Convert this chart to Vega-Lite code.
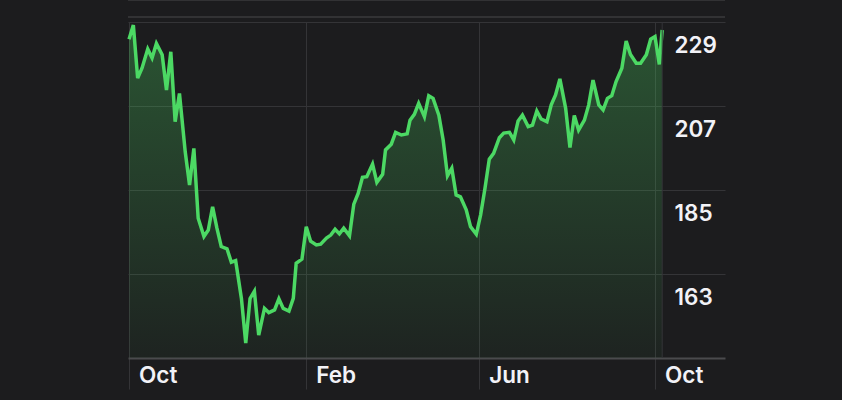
{
  "$schema": "https://vega.github.io/schema/vega-lite/v6.json",
  "width": 597,
  "height": 336,
  "autosize": "none",
  "padding": {"left": 128, "top": 22, "right": 117, "bottom": 42},
  "background": "#1c1c1e",
  "config": {
    "view": {"stroke": null},
    "axis": {"labelFont": "Inter", "labelFontWeight": 600, "labelFontSize": 22.5, "labelColor": "#f2f2f7", "title": null}
  },
  "data": {"values": [
    {"date": "2018-10-01T00:00", "price": 224.5},
    {"date": "2018-10-04T00:00", "price": 228.2},
    {"date": "2018-10-07T00:00", "price": 214.3},
    {"date": "2018-10-10T00:00", "price": 216.9},
    {"date": "2018-10-14T00:00", "price": 221.9},
    {"date": "2018-10-17T00:00", "price": 219.6},
    {"date": "2018-10-20T00:00", "price": 223.4},
    {"date": "2018-10-24T00:00", "price": 220.4},
    {"date": "2018-10-27T00:00", "price": 211.2},
    {"date": "2018-10-30T00:00", "price": 221.2},
    {"date": "2018-11-02T00:00", "price": 202.9},
    {"date": "2018-11-05T00:00", "price": 210.3},
    {"date": "2018-11-09T00:00", "price": 195.0},
    {"date": "2018-11-12T00:00", "price": 186.3},
    {"date": "2018-11-15T00:00", "price": 195.9},
    {"date": "2018-11-18T00:00", "price": 177.6},
    {"date": "2018-11-22T00:00", "price": 172.8},
    {"date": "2018-11-25T00:00", "price": 174.5},
    {"date": "2018-11-28T00:00", "price": 180.6},
    {"date": "2018-12-01T00:00", "price": 175.0},
    {"date": "2018-12-04T00:00", "price": 170.2},
    {"date": "2018-12-08T00:00", "price": 169.6},
    {"date": "2018-12-11T00:00", "price": 166.1},
    {"date": "2018-12-14T00:00", "price": 166.5},
    {"date": "2018-12-18T00:00", "price": 156.6},
    {"date": "2018-12-21T00:00", "price": 144.9},
    {"date": "2018-12-24T00:00", "price": 156.6},
    {"date": "2018-12-27T00:00", "price": 158.5},
    {"date": "2018-12-30T00:00", "price": 147.0},
    {"date": "2019-01-03T00:00", "price": 154.0},
    {"date": "2019-01-06T00:00", "price": 152.9},
    {"date": "2019-01-10T00:00", "price": 153.6},
    {"date": "2019-01-13T00:00", "price": 156.5},
    {"date": "2019-01-16T00:00", "price": 154.0},
    {"date": "2019-01-20T00:00", "price": 153.3},
    {"date": "2019-01-23T00:00", "price": 156.6},
    {"date": "2019-01-25T00:00", "price": 165.8},
    {"date": "2019-01-29T00:00", "price": 166.9},
    {"date": "2019-02-01T00:00", "price": 175.4},
    {"date": "2019-02-04T00:00", "price": 171.6},
    {"date": "2019-02-08T00:00", "price": 170.6},
    {"date": "2019-02-11T00:00", "price": 170.8},
    {"date": "2019-02-15T00:00", "price": 172.4},
    {"date": "2019-02-18T00:00", "price": 173.2},
    {"date": "2019-02-21T00:00", "price": 174.7},
    {"date": "2019-02-24T00:00", "price": 173.5},
    {"date": "2019-02-27T00:00", "price": 175.0},
    {"date": "2019-03-03T00:00", "price": 173.0},
    {"date": "2019-03-06T00:00", "price": 181.3},
    {"date": "2019-03-09T00:00", "price": 184.1},
    {"date": "2019-03-12T00:00", "price": 188.3},
    {"date": "2019-03-15T00:00", "price": 188.5},
    {"date": "2019-03-19T00:00", "price": 191.8},
    {"date": "2019-03-22T00:00", "price": 187.0},
    {"date": "2019-03-26T00:00", "price": 189.1},
    {"date": "2019-03-28T00:00", "price": 195.5},
    {"date": "2019-04-01T00:00", "price": 197.0},
    {"date": "2019-04-04T00:00", "price": 200.1},
    {"date": "2019-04-08T00:00", "price": 199.4},
    {"date": "2019-04-12T00:00", "price": 199.7},
    {"date": "2019-04-14T00:00", "price": 203.3},
    {"date": "2019-04-17T00:00", "price": 204.8},
    {"date": "2019-04-20T00:00", "price": 207.7},
    {"date": "2019-04-24T00:00", "price": 204.2},
    {"date": "2019-04-27T00:00", "price": 209.7},
    {"date": "2019-04-30T00:00", "price": 209.0},
    {"date": "2019-05-04T00:00", "price": 204.6},
    {"date": "2019-05-07T00:00", "price": 198.1},
    {"date": "2019-05-10T00:00", "price": 188.7},
    {"date": "2019-05-13T00:00", "price": 190.7},
    {"date": "2019-05-16T00:00", "price": 183.7},
    {"date": "2019-05-19T00:00", "price": 183.2},
    {"date": "2019-05-23T00:00", "price": 179.8},
    {"date": "2019-05-26T00:00", "price": 175.4},
    {"date": "2019-05-30T00:00", "price": 173.4},
    {"date": "2019-06-02T00:00", "price": 178.5},
    {"date": "2019-06-05T00:00", "price": 185.4},
    {"date": "2019-06-08T00:00", "price": 193.1},
    {"date": "2019-06-11T00:00", "price": 194.6},
    {"date": "2019-06-15T00:00", "price": 198.7},
    {"date": "2019-06-18T00:00", "price": 199.9},
    {"date": "2019-06-22T00:00", "price": 200.1},
    {"date": "2019-06-25T00:00", "price": 198.1},
    {"date": "2019-06-28T00:00", "price": 203.1},
    {"date": "2019-07-01T00:00", "price": 204.6},
    {"date": "2019-07-05T00:00", "price": 201.6},
    {"date": "2019-07-08T00:00", "price": 202.0},
    {"date": "2019-07-11T00:00", "price": 205.7},
    {"date": "2019-07-14T00:00", "price": 203.6},
    {"date": "2019-07-18T00:00", "price": 202.9},
    {"date": "2019-07-21T00:00", "price": 207.3},
    {"date": "2019-07-24T00:00", "price": 209.9},
    {"date": "2019-07-27T00:00", "price": 214.1},
    {"date": "2019-07-31T00:00", "price": 206.4},
    {"date": "2019-08-03T00:00", "price": 196.1},
    {"date": "2019-08-06T00:00", "price": 204.5},
    {"date": "2019-08-09T00:00", "price": 200.7},
    {"date": "2019-08-13T00:00", "price": 203.3},
    {"date": "2019-08-16T00:00", "price": 207.3},
    {"date": "2019-08-19T00:00", "price": 213.8},
    {"date": "2019-08-23T00:00", "price": 207.3},
    {"date": "2019-08-26T00:00", "price": 206.0},
    {"date": "2019-08-29T00:00", "price": 209.0},
    {"date": "2019-09-01T00:00", "price": 209.7},
    {"date": "2019-09-04T00:00", "price": 213.4},
    {"date": "2019-09-08T00:00", "price": 216.9},
    {"date": "2019-09-11T00:00", "price": 224.0},
    {"date": "2019-09-14T00:00", "price": 220.5},
    {"date": "2019-09-18T00:00", "price": 218.2},
    {"date": "2019-09-21T00:00", "price": 218.2},
    {"date": "2019-09-25T00:00", "price": 220.4},
    {"date": "2019-09-28T00:00", "price": 224.5},
    {"date": "2019-10-01T00:00", "price": 225.2},
    {"date": "2019-10-04T00:00", "price": 217.9},
    {"date": "2019-10-06T00:00", "price": 226.9}
  ]},
  "encoding": {
    "x": {
      "field": "date", "type": "temporal",
      "scale": {"domain": [{"year": 2018, "month": 9, "date": 30, "hours": 7}, {"year": 2019, "month": 11, "date": 18, "hours": 14}]},
      "axis": {
        "values": [{"year": 2018, "month": 10, "date": 1}, {"year": 2019, "month": 2, "date": 1}, {"year": 2019, "month": 6, "date": 1}, {"year": 2019, "month": 10, "date": 1}],
        "format": "%b", "grid": true, "gridColor": "#343437", "gridWidth": 1,
        "domain": true, "domainColor": "#4a4a4d", "domainWidth": 2,
        "ticks": true, "tickSize": 31, "tickColor": "#343437", "tickWidth": 1,
        "labelAlign": "left", "labelBaseline": "middle", "labelPadding": -14, "labelOffset": 9.5,
        "labelFlush": false, "labelOverlap": false
      }
    },
    "y": {
      "field": "price", "type": "quantitative",
      "scale": {"domain": [141, 229], "zero": false, "nice": false},
      "axis": {
        "orient": "right", "values": [163, 185, 207, 229],
        "grid": true, "gridColor": "#343437", "gridWidth": 1,
        "domain": false, "ticks": false,
        "labelAlign": "left", "labelBaseline": "middle", "labelPadding": -51, "labelOffset": 23
      }
    }
  },
  "layer": [
    {
      "mark": {"type": "area", "fill": {"gradient": "linear", "x1": 0, "y1": 0, "x2": 0, "y2": 1,
        "stops": [{"offset": 0, "color": "rgba(76,217,100,0.30)"}, {"offset": 1, "color": "rgba(76,217,100,0.04)"}]}},
      "encoding": {"y2": {"datum": 141}}
    },
    {
      "mark": {"type": "line", "color": "#4cd964", "strokeWidth": 3.5}
    },
    {
      "data": {"values": [{"d": "2019-10-06T00:00"}]},
      "mark": {"type": "rule", "color": "#343437", "strokeWidth": 1},
      "encoding": {"x": {"field": "d", "type": "temporal"}, "y": null}
    },
    {
      "data": {"values": [{"v": 230.3}, {"v": 234.76}]},
      "mark": {"type": "rule", "color": "#3a3a3d", "strokeWidth": 1.5, "clip": false},
      "encoding": {"x": null, "y": {"field": "v", "type": "quantitative"}}
    }
  ]
}
